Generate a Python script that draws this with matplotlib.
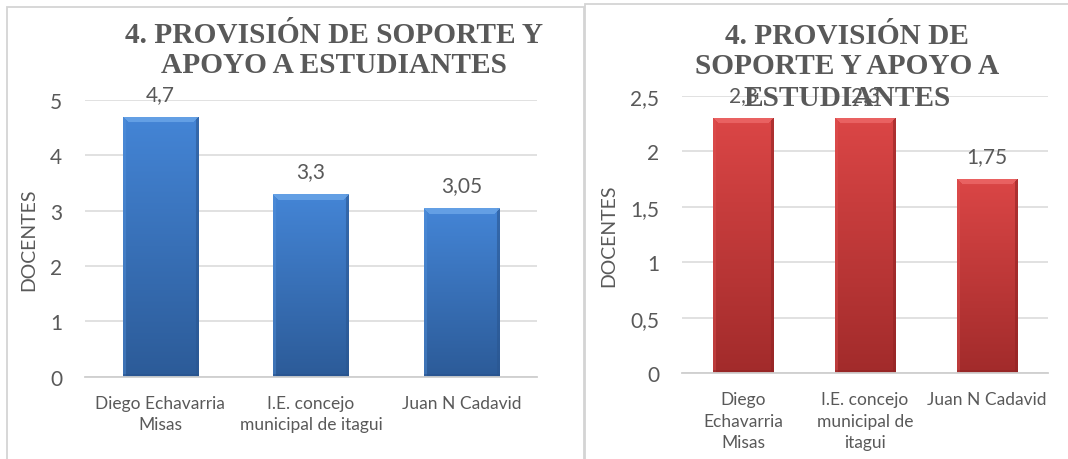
import numpy as np
import matplotlib
matplotlib.use("Agg")
import matplotlib.pyplot as plt
from matplotlib.patches import Rectangle

# ---------------- data ----------------
title_left = ["4. PROVISIÓN DE SOPORTE Y", "APOYO A ESTUDIANTES"]
title_right = ["4. PROVISIÓN DE", "SOPORTE Y APOYO A", "ESTUDIANTES"]
categories_left = ["Diego Echavarria\nMisas", "I.E. concejo\nmunicipal de itagui", "Juan N Cadavid"]
categories_right = ["Diego\nEchavarria\nMisas", "I.E. concejo\nmunicipal de\nitagui", "Juan N Cadavid"]
values_left = [4.7, 3.3, 3.05]
values_right = [2.3, 2.3, 1.75]
value_labels_left = ["4,7", "3,3", "3,05"]
value_labels_right = ["2,3", "2,3", "1,75"]
yticks_left = [0, 1, 2, 3, 4, 5]
ytick_labels_left = ["0", "1", "2", "3", "4", "5"]
yticks_right = [0, 0.5, 1, 1.5, 2, 2.5]
ytick_labels_right = ["0", "0,5", "1", "1,5", "2", "2,5"]
ylabel_text = "DOCENTES"

# ---------------- style ----------------
W, H, DPI = 1068, 460, 100
TXT = "#595959"
GRID = "#d9d9d9"
SANS = ["Lato", "DejaVu Sans"]
SERIF = ["Liberation Serif", "DejaVu Serif"]

BLUE = dict(top="#4485d6", bot="#2c5b98", bevel="#6ea9ea", left="#5593dc", right="#2a5690", bottom="#27508a")
RED = dict(top="#db4646", bot="#a22b2b", bevel="#ee6b6b", left="#e05252", right="#922424", bottom="#8c2222")


def hex2rgb(h):
    h = h.lstrip("#")
    return np.array([int(h[i:i + 2], 16) / 255 for i in (0, 2, 4)])


fig = plt.figure(figsize=(W / DPI, H / DPI), dpi=DPI)
fig.patch.set_facecolor("white")

# panel frames
for (l, t, r, b) in [(7, 8, 584, 470), (585, 5, 1075, 470)]:
    fig.add_artist(Rectangle((l / W, 1 - b / H), (r - l) / W, (b - t) / H,
                             transform=fig.transFigure, fill=False,
                             edgecolor="#d4d4d4", linewidth=1.3))


def px_axes(l, t, r, b):
    return fig.add_axes([l / W, 1 - b / H, (r - l) / W, (b - t) / H])


def shade_bar(ax, bar, pal):
    x, y = bar.get_x(), bar.get_y()
    w, h = bar.get_width(), bar.get_height()
    p0 = ax.transData.transform((x, y))
    p1 = ax.transData.transform((x + w, y + h))
    nx = max(int(round(p1[0] - p0[0])), 4)
    ny = max(int(round(p1[1] - p0[1])), 4)
    t = np.linspace(0, 1, ny)[:, None, None]
    img = hex2rgb(pal["top"]) * (1 - t) + hex2rgb(pal["bot"]) * t
    img = np.repeat(img, nx, axis=1)
    yy, xx = np.mgrid[0:ny, 0:nx]
    bev = 6
    side = 3
    lb = xx < side
    rb = xx >= nx - side
    img[lb] = img[lb] * 0.6 + hex2rgb(pal["left"]) * 0.4
    img[rb] = img[rb] * 0.4 + hex2rgb(pal["right"]) * 0.6
    bb = yy >= ny - side
    img[bb] = img[bb] * 0.5 + hex2rgb(pal["bottom"]) * 0.5
    tb = (yy < bev) & (xx >= yy) & (xx < nx - yy)
    img[tb] = hex2rgb(pal["bevel"]) * 0.75 + img[tb] * 0.25
    im = ax.imshow(img, extent=(x, x + w, y, y + h), origin="upper",
                   aspect="auto", interpolation="bilinear", zorder=3)
    im.set_clip_path(bar)


def draw_panel(box, cats, vals, vlabels, ticks, tlabels, pal, ylab_x):
    ax = px_axes(*box)
    xs = np.arange(len(cats))
    bars = ax.bar(xs, vals, width=0.5, color=pal["top"], zorder=2, linewidth=0)
    ax.set_xlim(-0.5, len(cats) - 0.5)
    ax.set_ylim(0, ticks[-1])
    for b in bars:
        shade_bar(ax, b, pal)
    ax.set_xlim(-0.5, len(cats) - 0.5)
    ax.set_ylim(0, ticks[-1])
    ax.set_yticks(ticks)
    ax.set_yticklabels(tlabels, fontsize=15, color=TXT, family=SANS)
    ax.set_xticks(xs)
    ax.set_xticklabels(cats, fontsize=12.5, color=TXT, family=SANS, linespacing=1.4)
    ax.tick_params(axis="y", length=0, pad=16.5)
    ax.tick_params(axis="x", length=0, pad=13)
    ax.grid(axis="y", color=GRID, linewidth=1.1, zorder=0)
    ax.set_axisbelow(True)
    for s in ("top", "right", "left"):
        ax.spines[s].set_visible(False)
    ax.spines["bottom"].set_color("#cfcfcf")
    ax.spines["bottom"].set_linewidth(1.3)
    ax.spines["bottom"].set_zorder(4)
    ax.set_facecolor("none")
    for xv, v, lab in zip(xs, vals, vlabels):
        ax.annotate(lab, (xv, v), xytext=(0, 12), textcoords="offset points",
                    ha="center", va="baseline", fontsize=15, color=TXT,
                    family=SANS, zorder=5)
    fig.text(ylab_x / W, 1 - ((box[1] + box[3]) / 2) / H, ylabel_text,
             rotation=90, ha="center", va="center", fontsize=14,
             color=TXT, family=SANS)
    return ax


draw_panel((85, 101, 537, 377.7), categories_left, values_left, value_labels_left,
           yticks_left, ytick_labels_left, BLUE, 29)
draw_panel((682, 96.7, 1048, 374.3), categories_right, values_right, value_labels_right,
           yticks_right, ytick_labels_right, RED, 609)

# titles (one line each, baselines measured)
for line, base in zip(title_left, [43.3, 73.3]):
    fig.text(334 / W, 1 - base / H, line, ha="center", va="baseline",
             fontsize=21.2, fontweight="bold", color=TXT, family=SERIF)
for line, base in zip(title_right, [43.5, 74.5, 105.5]):
    fig.text(847 / W, 1 - base / H, line, ha="center", va="baseline",
             fontsize=21.2, fontweight="bold", color=TXT, family=SERIF)

fig.savefig("out.png", dpi=DPI, facecolor="white")
